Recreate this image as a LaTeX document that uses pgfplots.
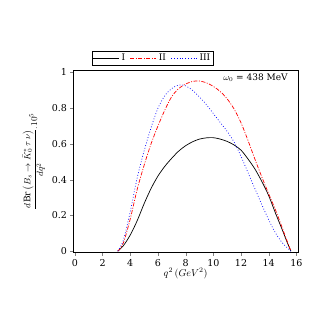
\documentclass[border=0pt]{standalone}
\usepackage{amsmath}
\usepackage{fontspec}
\setmainfont{DejaVu Serif}
\usepackage{pgfplots}
\pgfplotsset{compat=1.18}
\usetikzlibrary{calc}

\begin{document}
\begin{tikzpicture}
\begin{axis}[
    name=ax,
    scale only axis,
    width=224.5pt,
    height=182pt,
    xmin=-0.1, xmax=16.1,
    ymin=-0.008, ymax=1.01,
    xtick={0,2,...,16},
    ytick={0,0.2,0.4,0.6,0.8,1},
    yticklabels={0,0.2,0.4,0.6,0.8,1},
    tick align=outside,
    xtick pos=bottom,
    ytick pos=left,
    major tick length=3pt,
    tick label style={font=\fontsize{9.5}{10}\selectfont},
    /pgf/number format/assume math mode=true,
    xlabel={$q^2\,(GeV^2)$},
    ylabel={$\dfrac{d\,\mathrm{Br}\left(B_s\to \bar{K}_0^{*}\,\tau\,\nu\right)}{dq^2}.10^5$},
    label style={font=\small},
    xlabel style={yshift=5pt, font=\normalsize},
    legend columns=3,
    legend style={at={(0.082,1.031)}, anchor=south west, draw=black,
        font=\fontsize{9}{10}\selectfont, inner sep=0.8pt,
        /tikz/every even column/.append style={column sep=3pt}},
    legend image code/.code={\draw[#1] (0pt,0pt) -- (26pt,0pt);},
    clip=false
]
    \addplot[black, line width=0.7pt, smooth] coordinates {
        (3.1,0) (3.5,0.03) (4.0,0.09) (4.5,0.17) (5.0,0.265)
        (5.5,0.35) (6.0,0.42) (6.5,0.475) (7.0,0.52) (7.5,0.56)
        (8.0,0.59) (8.5,0.612) (9.0,0.627) (9.5,0.634) (10.0,0.635)
        (10.5,0.627) (11.0,0.614) (11.5,0.594) (12.0,0.565) (12.5,0.516)
        (13.0,0.46) (13.5,0.39) (14.0,0.31) (14.5,0.21) (15.0,0.115)
        (15.3,0.055) (15.6,0)
    };
    \addlegendentry{I}
    \addplot[red, line width=0.7pt, smooth,
        dash pattern=on 4pt off 1.5pt on 1pt off 1.5pt] coordinates {
        (3.1,0) (3.5,0.045) (4.0,0.18) (4.5,0.345) (5.0,0.48)
        (5.5,0.60) (6.0,0.70) (6.5,0.79) (7.0,0.865) (7.5,0.91)
        (8.0,0.935) (8.5,0.95) (9.0,0.952) (9.5,0.942) (10.0,0.922)
        (10.5,0.893) (11.0,0.852) (11.5,0.795) (12.0,0.718) (12.5,0.62)
        (13.0,0.515) (13.5,0.415) (14.0,0.32) (14.5,0.228) (15.0,0.125)
        (15.3,0.062) (15.6,0)
    };
    \addlegendentry{II}
    \addplot[blue, line width=0.7pt, smooth,
        dash pattern=on 0.8pt off 2pt] coordinates {
        (3.1,0) (3.5,0.06) (4.0,0.22) (4.5,0.41) (5.0,0.56)
        (5.5,0.69) (6.0,0.80) (6.5,0.87) (7.0,0.91) (7.5,0.93)
        (8.0,0.925) (8.5,0.90) (9.0,0.862) (9.5,0.82) (10.0,0.77)
        (10.5,0.72) (11.0,0.67) (11.5,0.61) (12.0,0.53) (12.5,0.44)
        (13.0,0.35) (13.5,0.26) (14.0,0.175) (14.5,0.10) (15.0,0.045)
        (15.6,0)
    };
    \addlegendentry{III}
    \node[anchor=north east, font=\fontsize{9}{10}\selectfont, inner sep=1pt]
        at (rel axis cs:0.96,0.99) {$\omega_0$ = 438 MeV};
\end{axis}
\path ($(ax.south west)+(-73.5pt,-74.5pt)$) rectangle ($(ax.north east)+(29pt,70.7pt)$);
\end{tikzpicture}
\end{document}
